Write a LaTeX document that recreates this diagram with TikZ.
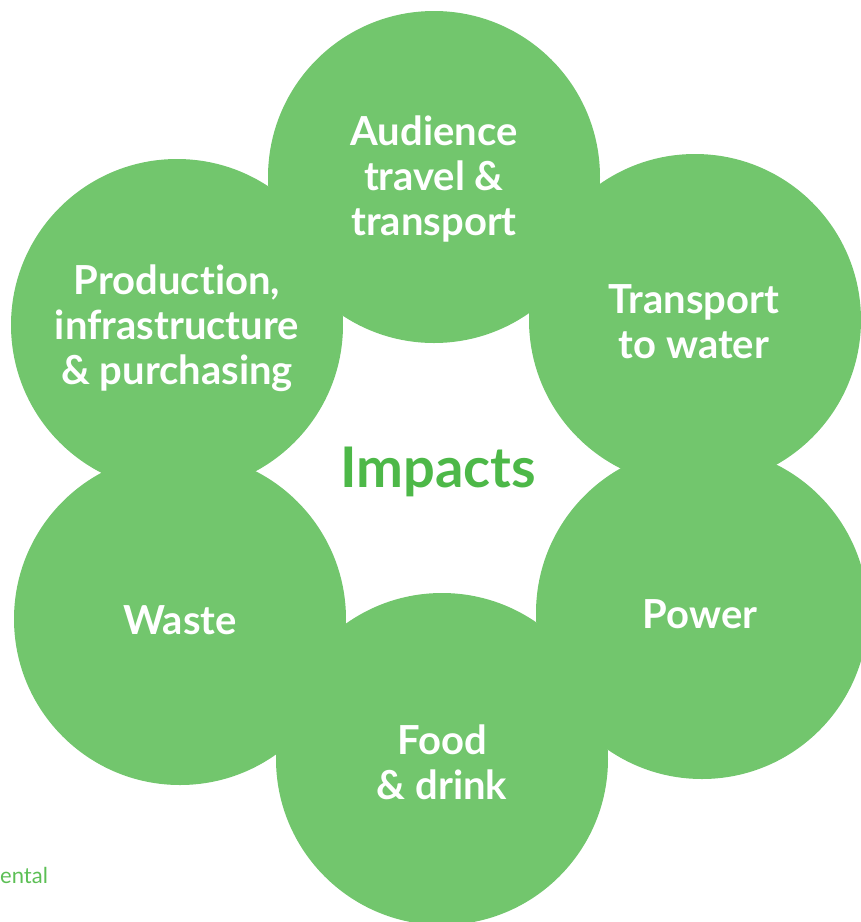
\documentclass[tikz,border=0pt]{standalone}
\usepackage{fontspec}
\setmainfont{Lato}[Ligatures=CommonOff]
\definecolor{petalgreen}{HTML}{72C66D}
\definecolor{titlegreen}{HTML}{4DB848}
\definecolor{notegreen}{HTML}{5CBF55}
\begin{document}
\begin{tikzpicture}[x=1pt,y=-1pt,
  petal/.style={circle, fill=petalgreen, minimum size=332pt, inner sep=0pt},
  lbl/.style={text=white, font=\fontsize{40}{45}\selectfont\bfseries, align=center}]
\useasboundingbox (0,0) rectangle (861,922);
\clip (0,0) rectangle (861,922);
\node[petal] (c1) at (434,177) {};
\node[petal] (c2) at (695,320) {};
\node[petal] (c3) at (702,613) {};
\node[petal] (c4) at (442,759) {};
\node[petal] (c5) at (180,619) {};
\node[petal] (c6) at (177,325) {};
\node[lbl] (t1) at (434,179) {Audience\\travel \&\\transport};
\node[lbl] (t2) at (694,322) {Transport\\to water};
\node[lbl] (t3) at (700,614) {Power};
\node[lbl] (t4) at (442,762) {Food\\\& drink};
\node[lbl] (t5) at (180,620) {Waste};
\node[lbl] (t6) at (177,328) {Production,\\infrastructure\\\& purchasing};
\node[text=titlegreen, font=\fontsize{56}{64}\selectfont\bfseries] (imp) at (438,472) {Impacts};
\node[text=notegreen, font=\fontsize{22}{26}\selectfont, anchor=base west, inner sep=0pt] (note) at (0,883) {ental};
\end{tikzpicture}
\end{document}
